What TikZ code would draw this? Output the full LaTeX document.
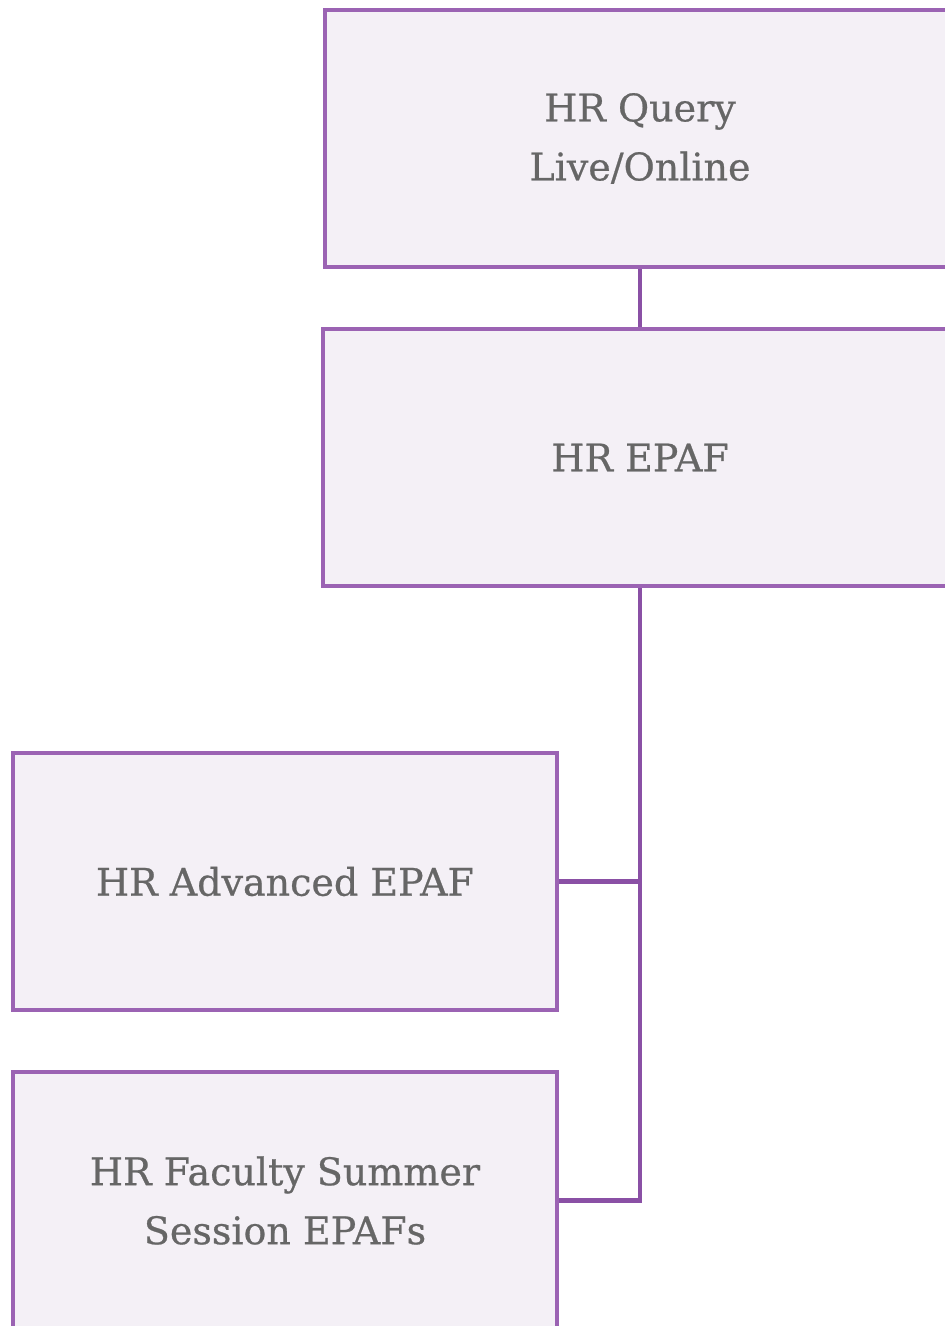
\documentclass[tikz,border=0pt]{standalone}
\usepackage{fontspec}
\newfontfamily\boxfont[FakeBold=0.6]{DejaVu Serif}
\definecolor{boxedge}{RGB}{155,99,179}
\definecolor{boxfill}{RGB}{244,240,246}
\definecolor{linkcol}{RGB}{138,80,165}
\definecolor{txt}{RGB}{102,102,102}
\tikzset{
  orgbox/.style={draw=boxedge, fill=boxfill, line width=4.5pt, minimum width=#1, minimum height=257pt, inner sep=0pt, align=center, text=txt, font=\boxfont\fontsize{38}{59}\selectfont},
  link/.style={draw=linkcol, line width=4.5pt}
}
\begin{document}
\begin{tikzpicture}[x=1pt,y=-1pt]
\useasboundingbox (0,0) rectangle (945,1326);
\clip (0,0) rectangle (945,1326);
\node[orgbox=630pt] (b1) at (640,138.5) {HR Query\\Live/Online};
\node[orgbox=634pt] (b2) at (640,457.5) {HR EPAF};
\node[orgbox=544pt] (b3) at (285,881.5) {HR Advanced EPAF};
\node[orgbox=544pt] (b4) at (285,1200.5) {HR Faculty Summer\\Session EPAFs};
\draw[link] (b1.south) -- (b2.north);
\draw[link] (b2.south) |- (b3.east);
\draw[link] (b2.south) |- (b4.east);
\end{tikzpicture}
\end{document}
